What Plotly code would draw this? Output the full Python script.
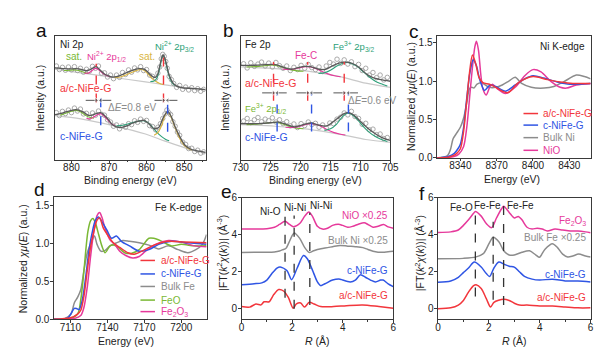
import plotly.graph_objects as go

W, H = 613, 356
FONT = "Liberation Sans, Arial, sans-serif"
RED = "#f2363c"
BLUE = "#2f55e4"
GREY = "#8c8c8c"
MAG = "#e6399b"
GREEN = "#7ab834"
TEAL = "#2c9f78"
GOLD = "#d9b43e"
BG = "#c9c9c9"
FIT = "#5a5a5a"
PT = "#a0a0a0"

# ---------------- panel a : Ni 2p XPS ----------------
A_E_up = [884.4, 883, 882, 881, 880, 879, 878, 877, 876, 875, 874, 873.4, 873, 872, 871, 870, 869, 868, 867, 866,
          865, 864, 863, 862, 861, 860, 859, 858, 857.5, 857, 856.5, 856, 855.6, 855.2, 854.8, 854.4, 854, 853, 852, 851,
          850, 848, 846, 844.3]
A_fit_up = [284, 283, 282, 281, 281, 282, 281, 278, 276, 279, 286, 288, 285, 273, 264, 259, 256, 257, 261, 266,
            271, 276, 280, 282, 281, 275, 263, 255, 256, 266, 290, 315, 324, 316, 300, 280, 262, 238, 228, 224,
            222, 221, 219, 217]
A_bg_E = [884.4, 877.5, 868.9, 860.3, 855.1, 848.2, 844.3]
A_bg_up = [280, 269, 255, 241, 232, 221, 217]
A_sat1_E_up = [882, 880.5, 879.5, 878.5, 877.5, 876.5, 875.5]
A_sat1_up = [276, 277, 278, 277, 274, 270, 267]
A_p12_E_up = [876.5, 875.5, 874.5, 873.8, 873.2, 872.5, 871.5, 870.5, 869.5]
A_p12_up = [268, 268, 276, 282, 282, 276, 266, 260, 257]
A_sat2_E_up = [868.5, 867, 865.5, 864, 862.5, 861.5, 860.5, 859.5, 858.5, 857.5, 856.5, 855.5]
A_sat2_up = [254, 256, 262, 270, 277, 279, 275, 264, 251, 242, 236, 233]
A_p32_E_up = [859, 858, 857.3, 856.8, 856.3, 855.9, 855.6, 855.3, 854.9, 854.5, 854, 853.3, 852.5]
A_p32_up = [242, 244, 252, 268, 294, 315, 320, 316, 300, 280, 258, 240, 230]
A_pts_E_up = [884.0, 883.2, 882.4, 881.6, 880.8, 880.0, 879.2, 878.4, 877.6, 876.8,
              876.0, 875.2, 874.4, 873.6, 872.8, 872.0, 871.2, 870.4, 869.6, 868.8,
              868.0, 867.2, 866.4, 865.6, 864.8, 864.0, 863.2, 862.4, 861.6, 860.8,
              860.0, 859.2, 858.4, 857.6, 857.0, 856.5, 856.1, 855.7, 855.3, 854.9,
              854.5, 854.0, 853.4, 852.8, 852.0, 851.2, 850.4, 849.6, 848.8, 848.0,
              847.2, 846.4, 845.6, 844.8]
A_pts_up = [290, 279, 286, 277, 287, 278, 288, 276, 283, 271,
            280, 274, 289, 283, 290, 268, 269, 256, 262, 251,
            262, 255, 270, 264, 278, 271, 284, 278, 288, 276,
            279, 262, 258, 252, 268, 287, 312, 326, 320, 304,
            283, 258, 248, 236, 224, 230, 218, 225, 216, 223,
            214, 220, 212, 218]

A_E_lo = [884.4, 883, 881.8, 880.2, 878.8, 877.1, 875.3, 873.6, 872.2, 870.6, 868.9, 867.2, 865.4, 863.7, 862.0,
          860.7, 859.4, 858.1, 856.8, 855.5, 854.4, 853.4, 852.5, 851.6, 850.7, 849.9, 848.2, 846, 844.3]
A_fit_lo = [140, 143, 147, 152, 155, 149, 137, 142, 146, 130, 107, 100, 104, 114, 120,
            122, 112, 97, 100, 132, 150, 133, 105, 82, 62, 47, 33, 27, 23]
A_bg_E_lo = [884.4, 877.5, 868.9, 860.3, 855.1, 850, 848.2, 844.3]
A_bg_lo = [137, 127, 106, 80, 58, 38, 31, 22]
A_sat1_E_lo = [883, 881.5, 880, 879, 878, 877, 876, 875, 874]
A_sat1_lo = [138, 144, 150, 153, 151, 144, 136, 131, 129]
A_p12_E_lo = [876, 875, 874, 873, 872.2, 871.5, 870.5, 869.5, 868.5]
A_p12_lo = [128, 127, 133, 140, 143, 138, 125, 113, 106]
A_sat2_E_lo = [868, 866, 864, 862, 861, 860, 859, 858, 857, 856, 855, 854]
A_sat2_lo = [105, 108, 114, 120, 121, 118, 108, 95, 82, 72, 64, 59]
A_p32_E_lo = [858, 857, 856, 855.2, 854.5, 853.8, 853, 852, 851, 850, 849, 848]
A_p32_lo = [76, 84, 106, 135, 147, 140, 118, 88, 62, 45, 36, 31]
A_pts_E_lo = [884.0, 883.2, 882.4, 881.6, 880.8, 880.0, 879.2, 878.4, 877.6, 876.8,
              876.0, 875.2, 874.4, 873.6, 872.8, 872.0, 871.2, 870.4, 869.6, 868.8,
              868.0, 867.2, 866.4, 865.6, 864.8, 864.0, 863.2, 862.4, 861.6, 860.8,
              860.0, 859.2, 858.4, 857.6, 857.0, 856.3, 855.7, 855.1, 854.6, 854.1,
              853.6, 853.0, 852.4, 851.8, 851.2, 850.4, 849.6, 848.8, 848.0, 847.2,
              846.4, 845.6, 844.8]
A_pts_lo = [146, 137, 150, 143, 154, 146, 160, 151, 157, 142,
            144, 132, 145, 138, 151, 141, 138, 124, 117, 104,
            108, 96, 105, 101, 112, 109, 121, 116, 126, 119,
            122, 106, 103, 93, 101, 112, 128, 142, 154, 146,
            140, 118, 104, 86, 76, 55, 48, 35, 36, 26,
            30, 21, 25]
A_peak_up = [873.4, 855.5]
A_peak_up_top = [297, 327]
A_peak_lo = [872.2, 854.4]
A_peak_lo_bot = [107, 87]

# ---------------- panel b : Fe 2p XPS ----------------
B_E_up = [730, 728, 725.8, 724.75, 723.7, 722.6, 721.5, 720.4, 719.3, 718.3, 716.9, 715.8, 714.5, 713.4, 712.3,
          711.2, 710.1, 709.1, 708, 706.6, 705]
B_fit_up = [292, 292, 294, 295, 292, 284, 280, 285, 289, 288, 280, 280, 292, 300, 302,
            297, 284, 267, 255, 248, 243]
B_bg_E = [730, 724.2, 718.8, 713.4, 709.1, 705]
B_bg_up = [287, 282, 274, 257, 237, 224]
B_g_E_up = [729, 727, 725.5, 724.8, 723.5, 722.5, 721.5, 720.5, 719.5]
B_g_up = [287, 289, 292, 293, 289, 283, 278, 275, 274]
B_m_E_up = [723, 722, 721, 720, 719.2, 718.3, 717.3, 716.3, 715.3, 714.3, 713.3]
B_m_up = [281, 279, 281, 285, 288, 287, 281, 272, 265, 260, 257]
B_t_E_up = [717, 716, 715, 714, 713, 712.3, 711.5, 710.5, 709.5, 708.5, 707.5, 706.5, 705.5]
B_t_up = [267, 269, 277, 289, 298, 301, 298, 288, 272, 256, 243, 235, 228]
B_pts_E = [729.5, 728.9, 728.3, 727.7, 727.1, 726.5, 725.9, 725.3, 724.7, 724.1,
           723.5, 722.9, 722.3, 721.7, 721.1, 720.5, 719.9, 719.3, 718.7, 718.1,
           717.5, 716.9, 716.3, 715.7, 715.1, 714.5, 713.9, 713.3, 712.7, 712.1,
           711.5, 710.9, 710.3, 709.7, 709.1, 708.5, 707.9, 707.3, 706.7, 706.1, 705.5]
B_pts_up = [297, 284, 300, 289, 296, 302, 290, 299, 287, 301,
            291, 283, 290, 276, 286, 279, 292, 283, 295, 285,
            279, 287, 273, 290, 301, 296, 311, 298, 309, 296,
            303, 288, 295, 276, 283, 262, 270, 254, 262, 247, 255]
B_E_lo = [730, 726.9, 724.75, 723.7, 722.3, 721, 719.3, 718.3, 716.9, 715.6, 713.9, 712.8, 712, 711, 709.6,
          708, 706.4, 705]
B_fit_lo = [112, 112, 115, 117, 109, 102, 110, 114, 107, 105, 127, 142, 146, 137, 112, 87, 69, 60]
B_bg_lo = [109, 104, 95, 79, 63, 54]
B_g_E_lo = [729, 727, 725.5, 724.5, 723.5, 722.5, 721.5, 720.5, 719.5]
B_g_lo = [109, 111, 114, 116, 114, 108, 102, 98, 96]
B_m_E_lo = [722.5, 721.5, 720.5, 719.5, 718.5, 717.5, 716.5, 715.5, 714.5, 713.5, 712.5]
B_m_lo = [101, 100, 102, 107, 112, 110, 103, 93, 85, 80, 77]
B_t_E_lo = [716, 715, 714, 713, 712.2, 711.5, 710.5, 709.5, 708.5, 707.5, 706.5, 705.5]
B_t_lo = [91, 96, 110, 133, 144, 141, 125, 103, 85, 72, 63, 57]
B_pts_lo = [120, 128, 115, 124, 131, 118, 126, 121, 130, 117,
            124, 112, 118, 105, 111, 100, 112, 106, 117, 109,
            113, 101, 108, 99, 114, 112, 126, 132, 145, 139,
            150, 134, 128, 110, 113, 93, 95, 78, 80, 66, 69]
B_peak_up = [724.5, 718.8, 712.7]
B_peak_lo = [723.9, 718.15, 712.0]

# ---------------- panel c : Ni K-edge ----------------
C_E_ac = [8320, 8330, 8334, 8337, 8340, 8342.7, 8345.3, 8347.5, 8350, 8352.8, 8355.4, 8358.6, 8364, 8369.3,
          8374.6, 8379.4, 8388, 8400, 8411.9, 8422.5, 8433, 8447.6]
C_ac = [0.0, 0.01, 0.03, 0.06, 0.12, 0.35, 0.75, 1.1, 1.34, 1.22, 1.05, 0.98, 0.96, 0.92,
        0.87, 0.85, 0.98, 1.06, 1.02, 0.99, 0.97, 0.97]
C_E_c = [8320, 8330, 8335, 8338, 8340, 8342.7, 8345.3, 8348, 8350.6, 8353.3, 8356, 8360, 8364.5, 8369.3,
         8377.3, 8385.3, 8393.2, 8400, 8409, 8420, 8430.5, 8447.6]
C_c = [0.0, 0.02, 0.06, 0.12, 0.18, 0.4, 0.78, 1.12, 1.28, 1.2, 1.02, 0.88, 0.95, 0.93,
       0.87, 0.95, 1.03, 1.07, 1.04, 0.99, 0.96, 0.97]
C_E_ni = [8320, 8329.4, 8332, 8334, 8336.8, 8340, 8342.7, 8345.3, 8347.5, 8349.3, 8351.2, 8353.8, 8357.3,
          8364, 8369.3, 8374.6, 8380, 8385.3, 8390.6, 8398.6, 8409.2, 8417.2, 8425.2, 8435.8, 8442.5, 8447.6]
C_ni = [0.0, 0.03, 0.12, 0.25, 0.32, 0.4, 0.52, 0.72, 0.9, 0.92, 0.91, 0.96, 0.98,
        0.92, 0.92, 0.95, 1.0, 1.05, 0.97, 0.92, 0.91, 0.93, 0.99, 1.08, 1.06, 1.03]
C_E_nio = [8320, 8334.7, 8338.7, 8342.7, 8345.3, 8348, 8350.1, 8352, 8353.3, 8355, 8356.8, 8358.6, 8361.3,
           8364.5, 8366.6, 8370.6, 8377.3, 8385.3, 8393.2, 8400, 8406.6, 8414.5, 8422.5, 8427.9, 8435.8, 8447.6]
C_nio = [0.0, 0.02, 0.05, 0.15, 0.4, 0.85, 1.2, 1.45, 1.52, 1.4, 1.1, 0.9, 0.82,
         0.93, 0.96, 0.9, 0.84, 0.92, 1.07, 1.15, 1.12, 1.0, 0.92, 0.91, 0.95, 0.97]

# ---------------- panel d : Fe K-edge ----------------
D_E_ac = [7096.6, 7110, 7115.8, 7118.4, 7121, 7123.7, 7126.3, 7129, 7131.6, 7133.7, 7136.8, 7140.8, 7144.7,
          7150, 7156.6, 7161.8, 7168, 7176.3, 7189.5, 7202.6, 7220.5]
D_ac = [0.0, 0.02, 0.07, 0.12, 0.31, 0.65, 0.95, 1.16, 1.31, 1.34, 1.2, 1.1, 1.01,
        0.95, 0.88, 0.86, 0.9, 0.97, 1.03, 1.02, 1.01]
D_E_c = [7096.6, 7108, 7113.2, 7115.3, 7117.1, 7119.7, 7122.4, 7125, 7127.6, 7130.3, 7132.9, 7135.5, 7139.5,
         7143.4, 7147.4, 7151.3, 7157.9, 7165.8, 7173.7, 7181.6, 7192.1, 7205.3, 7220.5]
D_c = [0.0, 0.02, 0.145, 0.14, 0.13, 0.26, 0.56, 0.9, 1.14, 1.31, 1.35, 1.29, 1.18,
       1.07, 1.1, 1.03, 0.97, 0.9, 0.92, 0.99, 1.03, 1.01, 0.99]
D_E_fe = [7096.6, 7105.3, 7110.5, 7113.2, 7115.8, 7118.4, 7121, 7123.7, 7126.8, 7129.5, 7131.6, 7134.7, 7138.2,
          7142.1, 7147.4, 7152.6, 7157.9, 7165.8, 7173.7, 7181.6, 7189.5, 7197.4, 7205.3, 7211.8, 7217.1, 7220.5]
D_fe = [0.0, 0.01, 0.07, 0.22, 0.29, 0.39, 0.65, 0.88, 1.01, 1.1, 0.99, 0.9, 0.91,
        0.97, 1.01, 1.04, 1.03, 1.01, 0.98, 0.93, 0.97, 0.92, 0.88, 0.92, 0.99, 1.12]
D_E_feo = [7096.6, 7107.9, 7115.8, 7118.4, 7120.5, 7122.4, 7124.2, 7126.3, 7128.2, 7130.3, 7132.9, 7135.5,
           7138.2, 7142.1, 7144.7, 7148.7, 7154, 7159.2, 7165.8, 7173.7, 7177.6, 7184.2, 7192.1, 7200, 7210.5, 7220.5]
D_feo = [0.0, 0.0, 0.07, 0.26, 0.56, 0.9, 1.16, 1.3, 1.33, 1.27, 1.12, 0.97,
         0.88, 0.97, 0.98, 0.95, 0.88, 0.87, 0.92, 1.07, 1.07, 1.03, 0.97, 0.99, 0.97, 0.97]
D_E_fe2o3 = [7096.6, 7113.2, 7118.4, 7121, 7123.7, 7126.3, 7129, 7131.6, 7133.7, 7135.5, 7138.2, 7142.1,
             7146, 7150, 7155.3, 7160.5, 7165.8, 7171, 7179, 7189.5, 7200, 7210.5, 7220.5]
D_fe2o3 = [0.0, 0.01, 0.05, 0.16, 0.43, 0.82, 1.16, 1.37, 1.41, 1.35, 1.2, 1.05,
           0.99, 0.9, 0.84, 0.81, 0.83, 0.9, 0.99, 1.04, 1.02, 0.97, 0.96]

# ---------------- panel e : Ni FT-EXAFS ----------------
E_R_nio = [0, 0.5, 1.0, 1.3, 1.5, 1.72, 1.9, 2.05, 2.3, 2.5, 2.66, 2.8, 3.0, 3.2, 3.4, 3.6, 3.83, 4.0, 4.2,
           4.4, 4.6, 4.85, 5.0, 5.2, 5.4, 5.62, 5.8, 6.0]
E_nio = [4.3, 4.3, 4.32, 4.4, 4.55, 4.72, 4.55, 4.43, 4.6, 5.0, 5.22, 5.0, 4.45, 4.3, 4.35, 4.5, 4.56, 4.5, 4.4,
         4.45, 4.55, 4.64, 4.55, 4.4, 4.45, 4.55, 4.42, 4.35]
E_R_ni = [0, 0.5, 1.0, 1.3, 1.5, 1.65, 1.75, 1.85, 2.0, 2.08, 2.3, 2.5, 2.68, 2.8, 3.0, 3.2, 3.4, 3.6, 3.9,
          4.2, 4.5, 4.8, 5.0, 5.2, 5.4, 5.6, 5.8, 6.0]
E_ni = [3.04, 3.05, 3.05, 3.07, 3.12, 3.2, 3.25, 3.5, 3.95, 4.09, 3.8, 3.3, 3.04, 3.1, 3.2, 3.25, 3.3, 3.35, 3.42,
        3.38, 3.35, 3.3, 3.2, 3.1, 3.05, 3.05, 3.08, 3.1]
E_R_c = [0, 0.5, 0.8, 1.0, 1.2, 1.4, 1.53, 1.8, 1.98, 2.2, 2.45, 2.6, 2.8, 3.0, 3.13, 3.3, 3.6, 3.9, 4.0, 4.3,
         4.5, 4.7, 4.9, 5.1, 5.3, 5.5, 5.6, 5.8, 6.0]
E_c = [1.3, 1.35, 1.4, 1.55, 1.9, 2.2, 2.26, 2.05, 1.57, 2.2, 2.87, 2.7, 2.1, 1.45, 1.25, 1.35, 1.55, 1.6, 1.55,
       1.45, 1.55, 1.83, 1.7, 1.55, 1.45, 1.55, 1.55, 1.35, 1.2]
E_R_ac = [0, 0.32, 0.57, 0.77, 0.89, 1.09, 1.28, 1.47, 1.66, 1.85, 2.04, 2.17, 2.34, 2.49, 2.68, 2.87, 3.13,
          3.64, 4.15, 4.79, 5.43, 6.0]
E_ac = [0.12, 0.09, 0.26, 0.21, 0.38, 0.38, 0.78, 1.04, 0.96, 0.61, 0.03, 0.26, 0.31, 0.09, 0.35, 0.26, 0.12,
        0.12, 0.17, 0.21, 0.12, 0.03]
E_shell_R = [1.72, 2.08, 2.7]
E_shell_top = [5.13, 5.04, 5.18]
E_shell_bot = [0.6, 0.0, 0.2]

# ---------------- panel f : Fe FT-EXAFS ----------------
F_R_fe2o3 = [0, 0.5, 0.8, 1.0, 1.2, 1.4, 1.47, 1.7, 1.9, 2.11, 2.3, 2.5, 2.58, 2.8, 3.0, 3.16, 3.3, 3.5, 3.7,
             3.9, 4.1, 4.3, 4.6, 4.9, 5.2, 5.5, 5.8, 6.0]
F_fe2o3 = [4.12, 4.15, 4.25, 4.5, 4.8, 5.15, 5.25, 5.0, 4.6, 4.38, 4.9, 5.4, 5.53, 5.2, 4.9, 4.98, 4.8, 4.4, 4.3,
           4.35, 4.3, 4.2, 4.3, 4.25, 4.2, 4.2, 4.15, 4.1]
F_R_fe = [0, 1.0, 1.5, 1.8, 2.0, 2.17, 2.4, 2.6, 2.8, 3.0, 3.3, 3.6, 3.85, 3.99, 4.2, 4.5, 4.7, 4.9, 5.1, 5.3,
          5.53, 5.8, 6.0]
F_fe = [2.7, 2.72, 2.8, 3.0, 3.5, 3.86, 3.6, 3.1, 2.9, 2.9, 3.05, 3.13, 2.9, 2.78, 3.2, 3.51, 3.3, 2.95, 2.8,
        2.85, 2.95, 2.85, 2.8]
F_R_c = [0, 0.5, 0.8, 1.0, 1.2, 1.43, 1.7, 1.9, 2.03, 2.2, 2.39, 2.6, 2.8, 3.0, 3.2, 3.4, 3.7, 4.0, 4.5, 5.0,
         5.5, 6.0]
F_c = [1.43, 1.5, 1.7, 1.95, 2.2, 2.52, 2.25, 1.9, 1.74, 2.2, 2.52, 2.4, 2.3, 2.25, 2.0, 1.75, 1.6, 1.55, 1.6,
       1.5, 1.5, 1.45]
F_R_ac = [0, 0.5, 0.8, 1.0, 1.2, 1.4, 1.5, 1.7, 1.9, 2.07, 2.2, 2.58, 2.8, 3.0, 3.2, 3.5, 4.0, 4.5, 5.0, 5.5, 6.0]
F_ac = [0.0, 0.05, 0.2, 0.45, 0.9, 1.25, 1.3, 1.1, 0.55, 0.09, 0.35, 0.52, 0.45, 0.3, 0.2, 0.2, 0.15, 0.15, 0.1,
        0.05, 0.05]
F_shell_R = [1.47, 2.17, 2.58]
F_shell_top = [5.3, 4.7, 5.74]
F_shell_bot = [0.66, 0.49, 0.21]

# ---------------- layout ----------------
PANELS = [
    ("x", "y", (40, 195), (23, 151), [884.4, 844.3], [0, 382]),
    ("x2", "y2", (231, 385), (23, 151), [730, 705], [0, 382]),
    ("x3", "y3", (433, 591), (23, 149), [8320.7, 8447.6], [0, 1.585]),
    ("x4", "y4", (39, 196), (189, 316), [7096.6, 7220.5], [0, 1.62]),
    ("x5", "y5", (232, 388), (190, 316), [0, 6], [-0.57, 6]),
    ("x6", "y6", (434, 591), (190, 316), [0, 6], [-0.57, 6]),
]
TICKS = [
    dict(x=dict(tickvals=[880, 870, 860, 850], minor=dict(tickvals=[875, 865, 855, 845])), y=None),
    dict(x=dict(tickvals=[730, 725, 720, 715, 710, 705]), y=None),
    dict(x=dict(tickvals=[8340, 8370, 8400, 8430]), y=dict(tickvals=[0, 0.5, 1.0, 1.5], tickformat=".1f")),
    dict(x=dict(tickvals=[7110, 7140, 7170, 7200]), y=dict(tickvals=[0, 0.5, 1.0, 1.5], tickformat=".1f")),
    dict(x=dict(tickvals=[0, 2, 4, 6], minor=dict(tickvals=[1, 3, 5])), y=dict(tickvals=[0, 2, 4, 6])),
    dict(x=dict(tickvals=[0, 2, 4, 6], minor=dict(tickvals=[1, 3, 5])), y=dict(tickvals=[0, 2, 4, 6])),
]

fig = go.Figure()
layout = dict(width=W, height=H, margin=dict(l=0, r=0, t=0, b=0), paper_bgcolor="white",
              plot_bgcolor="white", showlegend=False, font=dict(family=FONT, size=10, color="#222"))
for i, (xa, ya, xpx, ypx, xr, yr) in enumerate(PANELS):
    xk = "xaxis" + ("" if i == 0 else str(i + 1))
    yk = "yaxis" + ("" if i == 0 else str(i + 1))
    base = dict(showline=True, mirror=True, linecolor="#3a3a3a", linewidth=1, showgrid=False, zeroline=False,
                ticks="outside", ticklen=2.5, tickcolor="#3a3a3a", tickfont=dict(size=10, color="#222"))
    xd = dict(base, domain=[xpx[0] / W, xpx[1] / W], range=xr, anchor=ya, tickmode="array",
              ticklabelstandoff=-4)
    xd.update(TICKS[i]["x"])
    if "minor" in xd:
        xd["minor"] = dict(xd["minor"], ticks="outside", ticklen=1.5, tickcolor="#3a3a3a")
    yd = dict(base, domain=[1 - ypx[1] / H, 1 - ypx[0] / H], range=yr, anchor=xa, ticklabelstandoff=-1)
    if TICKS[i]["y"] is None:
        yd.update(showticklabels=False, ticks="")
    else:
        yd.update(TICKS[i]["y"], tickmode="array")
    layout[xk] = xd
    layout[yk] = yd
fig.update_layout(**layout)


def line(x, y, color, ax, width=1.4, dash=None, smooth=0.8):
    fig.add_trace(go.Scatter(x=x, y=y, mode="lines", xaxis=ax[0], yaxis=ax[1],
                             line=dict(color=color, width=width, dash=dash, shape="spline", smoothing=smooth),
                             hoverinfo="skip"))


def pts(x, y, ax):
    fig.add_trace(go.Scatter(x=x, y=y, mode="markers", xaxis=ax[0], yaxis=ax[1],
                             marker=dict(symbol="circle-open", size=4.5, color=PT, line=dict(width=0.9)),
                             hoverinfo="skip"))


def vline(xs, tops, bots, color, ax, width=1.4):
    for xv, t, b in zip(xs, tops, bots):
        fig.add_trace(go.Scatter(x=[xv, xv], y=[b, t], mode="lines", xaxis=ax[0], yaxis=ax[1],
                                 line=dict(color=color, width=width, dash="dash"), hoverinfo="skip"))


def arrow(xh, xt, y, ax):
    # axes a and b are reversed: a head at a lower energy than its tail points to the right
    sym = "triangle-right" if xh < xt else "triangle-left"
    fig.add_trace(go.Scatter(x=[xt, xh], y=[y, y], mode="lines+markers", xaxis=ax[0], yaxis=ax[1],
                             line=dict(color="#555", width=1),
                             marker=dict(symbol=sym, size=[0, 5], color="#555"), hoverinfo="skip"))


ANN = []


def txt(s, x, y, ax, color="#222", size=10, xanchor="center", yanchor="middle", angle=0):
    ANN.append(dict(text=s, x=x, y=y, xref=ax[0], yref=ax[1], showarrow=False, xanchor=xanchor,
                    yanchor=yanchor, textangle=angle, font=dict(size=size, color=color, family=FONT)))


# ---- panel a
ax = ("x", "y")
line(A_bg_E, A_bg_up, BG, ax, 1.2)
line(A_bg_E_lo, A_bg_lo, BG, ax, 1.2)
pts(A_pts_E_up, A_pts_up, ax)
pts(A_pts_E_lo, A_pts_lo, ax)
line(A_sat1_E_up, A_sat1_up, GREEN, ax, 1.1)
line(A_p12_E_up, A_p12_up, MAG, ax, 1.1)
line(A_sat2_E_up, A_sat2_up, GOLD, ax, 1.1)
line(A_p32_E_up, A_p32_up, TEAL, ax, 1.1)
line(A_sat1_E_lo, A_sat1_lo, GREEN, ax, 1.1)
line(A_p12_E_lo, A_p12_lo, MAG, ax, 1.1)
line(A_sat2_E_lo, A_sat2_lo, TEAL, ax, 1.1)
line(A_p32_E_lo, A_p32_lo, GOLD, ax, 1.1)
line(A_E_up, A_fit_up, FIT, ax, 1.3)
line(A_E_lo, A_fit_lo, FIT, ax, 1.3)
vline(A_peak_up, A_peak_up_top, [177, 177], RED, ax)
vline(A_peak_lo, [194, 194], A_peak_lo_bot, BLUE, ax)
arrow(A_peak_up[0], 876.2, 184, ax)
arrow(A_peak_lo[0], 869.4, 184, ax)
arrow(A_peak_up[1], 857.9, 184, ax)
arrow(A_peak_lo[1], 851.8, 184, ax)
txt("Ni 2p", 883.6, 357, ax, xanchor="left")
txt("sat.", 879.4, 318, ax, GREEN)
txt("Ni<sup>2+</sup> 2p<sub>1/2</sub>", 870.7, 318, ax, MAG, size=9.5)
txt("sat.", 860.0, 318, ax, GOLD)
txt("Ni<sup>2+</sup> 2p<sub>3/2</sub>", 852.6, 350, ax, TEAL, size=9.5)
txt("a/c-NiFe-G", 883.6, 222, ax, RED, xanchor="left", size=10.5)
txt("Δ<i>E</i>=0.8 eV", 863.9, 162, ax, GREY)
txt("c-NiFe-G", 883.6, 74, ax, BLUE, xanchor="left", size=10.5)

# ---- panel b
ax = ("x2", "y2")
line(B_bg_E, B_bg_up, BG, ax, 1.2)
line(B_bg_E, B_bg_lo, BG, ax, 1.2)
pts(B_pts_E, B_pts_up, ax)
pts(B_pts_E, B_pts_lo, ax)
line(B_g_E_up, B_g_up, GREEN, ax, 1.1)
line(B_m_E_up, B_m_up, MAG, ax, 1.1)
line(B_t_E_up, B_t_up, TEAL, ax, 1.1)
line(B_g_E_lo, B_g_lo, GREEN, ax, 1.1)
line(B_m_E_lo, B_m_lo, MAG, ax, 1.1)
line(B_t_E_lo, B_t_lo, TEAL, ax, 1.1)
line(B_E_up, B_fit_up, FIT, ax, 1.3)
line(B_E_lo, B_fit_lo, FIT, ax, 1.3)
vline(B_peak_up, [302, 302, 302], [183, 183, 183], RED, ax)
vline(B_peak_lo, [205, 205, 205], [88, 88, 88], BLUE, ax)
for xh, xt in zip(B_peak_up, [726.4, 720.7, 714.5]):
    arrow(xh, xt, 207, ax)
for xh, xt in zip(B_peak_lo, [722.3, 716.4, 710.4]):
    arrow(xh, xt, 207, ax)
txt("Fe 2p", 729.6, 357, ax, xanchor="left")
txt("Fe-C", 719.1, 324, ax, MAG)
txt("Fe<sup>3+</sup> 2p<sub>3/2</sub>", 711.2, 350, ax, TEAL, size=9.5)
txt("a/c-NiFe-G", 729.6, 237, ax, RED, xanchor="left", size=10.5)
txt("Δ<i>E</i>=0.6 eV", 708.1, 182, ax, GREY)
txt("Fe<sup>3+</sup> 2p<sub>1/2</sub>", 729.6, 160, ax, GREEN, xanchor="left", size=9.5)
txt("c-NiFe-G", 729.6, 72, ax, BLUE, xanchor="left", size=10.5)

# ---- panel c
ax = ("x3", "y3")
line(C_E_ni, C_ni, GREY, ax, 1.5)
line(C_E_nio, C_nio, MAG, ax, 1.5)
line(C_E_c, C_c, BLUE, ax, 1.5)
line(C_E_ac, C_ac, RED, ax, 1.5)
txt("Ni K-edge", 0.975, 0.915, ("x3 domain", "y3 domain"), xanchor="right")

# ---- panel d
ax = ("x4", "y4")
line(D_E_fe, D_fe, GREY, ax, 1.5)
line(D_E_feo, D_feo, GREEN, ax, 1.5)
line(D_E_fe2o3, D_fe2o3, MAG, ax, 1.5)
line(D_E_c, D_c, BLUE, ax, 1.5)
line(D_E_ac, D_ac, RED, ax, 1.5)
txt("Fe K-edge", 0.98, 0.915, ("x4 domain", "y4 domain"), xanchor="right")

# ---- panel e
ax = ("x5", "y5")
line(E_R_nio, E_nio, MAG, ax, 1.5)
line(E_R_ni, E_ni, GREY, ax, 1.5)
line(E_R_c, E_c, BLUE, ax, 1.5)
line(E_R_ac, E_ac, RED, ax, 1.5)
vline(E_shell_R, E_shell_top, E_shell_bot, "#333", ax, 1.3)
txt("Ni-O", 1.15, 5.27, ax)
txt("Ni-Ni", 2.12, 5.48, ax)
txt("Ni-Ni", 3.15, 5.57, ax)
txt("NiO ×0.25", 5.88, 5.02, ax, MAG, xanchor="right")
txt("Bulk Ni ×0.25", 5.88, 3.69, ax, GREY, xanchor="right")
txt("c-NiFe-G", 5.88, 2.09, ax, BLUE, xanchor="right")
txt("a/c-NiFe-G", 5.88, 0.7, ax, RED, xanchor="right")

# ---- panel f
ax = ("x6", "y6")
line(F_R_fe2o3, F_fe2o3, MAG, ax, 1.5)
line(F_R_fe, F_fe, GREY, ax, 1.5)
line(F_R_c, F_c, BLUE, ax, 1.5)
line(F_R_ac, F_ac, RED, ax, 1.5)
vline(F_shell_R, F_shell_top, F_shell_bot, "#333", ax, 1.3)
txt("Fe-O", 0.92, 5.48, ax)
txt("Fe-Fe", 1.93, 5.57, ax)
txt("Fe-Fe", 3.24, 5.6, ax)
txt("Fe<sub>2</sub>O<sub>3</sub>", 5.91, 4.73, ax, MAG, xanchor="right")
txt("Bulk Fe ×0.25", 5.91, 3.83, ax, GREY, xanchor="right")
txt("c-NiFe-G", 5.91, 1.86, ax, BLUE, xanchor="right")
txt("a/c-NiFe-G", 5.91, 0.61, ax, RED, xanchor="right")

# ---- manual legends for c and d
SHAPES = []


def legend(items, axn, x0, x1, xl, rows):
    for (label, color), yv in zip(items, rows):
        SHAPES.append(dict(type="line", xref=axn[0], yref=axn[1], x0=x0, x1=x1, y0=yv, y1=yv,
                           line=dict(color=color, width=1.5)))
        txt(label, xl, yv, axn, color, xanchor="left")


legend([("a/c-NiFe-G", RED), ("c-NiFe-G", BLUE), ("Bulk Ni", GREY), ("NiO", MAG)],
       ("x3 domain", "y3 domain"), 0.563, 0.658, 0.677, [0.365, 0.27, 0.167, 0.063])
legend([("a/c-NiFe-G", RED), ("c-NiFe-G", BLUE), ("Bulk Fe", GREY), ("FeO", GREEN),
        ("Fe<sub>2</sub>O<sub>3</sub>", MAG)],
       ("x4 domain", "y4 domain"), 0.567, 0.662, 0.688, [0.48, 0.37, 0.268, 0.157, 0.063])

# ---- axis titles & panel letters (paper pixel positions)
P = ("paper", "paper")


def ptxt(s, xp, yp, size=10.5, angle=0, color="#222"):
    txt(s, xp / W, 1 - yp / H, P, color, size, angle=angle)


ptxt("Binding energy (eV)", 117.5, 172)
ptxt("Binding energy (eV)", 308, 172)
ptxt("Energy (eV)", 510, 171)
ptxt("Energy (eV)", 113, 338)
ptxt("<i>R</i> (Å)", 310, 338)
ptxt("<i>R</i> (Å)", 513, 338)
ptxt("Intensity (a.u.)", 25, 87, angle=-90)
ptxt("Intensity (a.u.)", 215, 87, angle=-90)
ptxt("Normalized <i>χμ</i>(<i>E</i>) (a.u.)", 406, 85, angle=-90)
ptxt("Normalized <i>χμ</i>(<i>E</i>) (a.u.)", 8, 253, angle=-90)
ptxt("|FT(<i>k</i><sup>2</sup><i>χ</i>(<i>k</i>))| (Å<sup>-3</sup>)", 212, 247, angle=-90)
ptxt("|FT(<i>k</i><sup>2</sup><i>χ</i>(<i>k</i>))| (Å<sup>-3</sup>)", 415, 247, angle=-90)
for letter, xp, yp in [("a", 26, 17), ("b", 219, 17), ("c", 409, 18), ("d", 24, 182), ("e", 217, 184),
                       ("f", 418, 186)]:
    ptxt(letter, xp, yp, size=19, color="#111")

fig.update_layout(annotations=ANN, shapes=SHAPES)
fig.write_html("out.html")
